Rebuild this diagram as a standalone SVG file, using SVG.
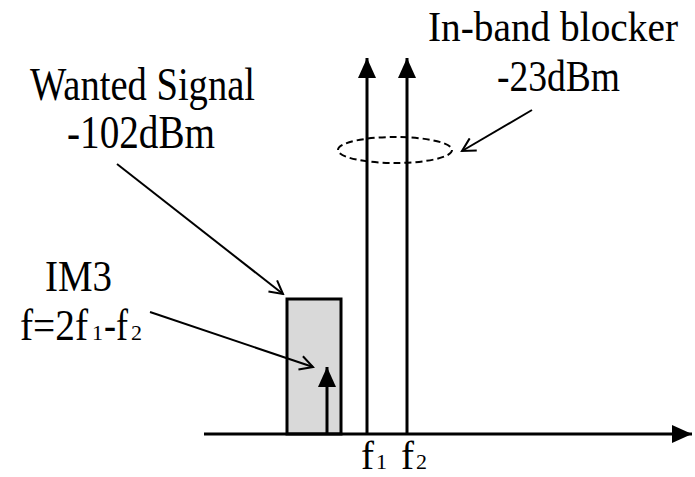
<svg xmlns="http://www.w3.org/2000/svg" width="695" height="477" viewBox="0 0 695 477">
<style>
text{font-family:"Liberation Serif","Times New Roman",serif;fill:#000}
.big{font-size:45px}
.sub{font-size:22px}
.thick{stroke:#000;stroke-width:3;fill:none}
.thin{stroke:#000;stroke-width:2;fill:none}
</style>
<defs>
<marker id="fill" markerWidth="20" markerHeight="18" refX="20" refY="9" orient="auto" markerUnits="userSpaceOnUse"><path d="M0,0 L20,9 L0,18 Z" fill="#000"/></marker>
<marker id="open" markerWidth="16" markerHeight="16" refX="14" refY="8" orient="auto" markerUnits="userSpaceOnUse"><path d="M1,1 L14,8 L1,15" fill="none" stroke="#000" stroke-width="2"/></marker>
</defs>
<rect width="695" height="477" fill="#fff"/>
<g id="band">
<rect x="287" y="299" width="54" height="135" fill="#d9d9d9" stroke="#000" stroke-width="3"/>
</g>
<g id="axis">
<line x1="204" y1="434" x2="692" y2="434" class="thick" marker-end="url(#fill)"/>
</g>
<g id="tones">
<line x1="327" y1="434" x2="327" y2="367" class="thick" marker-end="url(#fill)"/>
<line x1="367" y1="434" x2="367" y2="58" class="thick" marker-end="url(#fill)"/>
<line x1="407" y1="434" x2="407" y2="58" class="thick" marker-end="url(#fill)"/>
</g>
<g id="ellipse">
<ellipse cx="395" cy="150" rx="57" ry="13" fill="none" stroke="#000" stroke-width="2" stroke-dasharray="7,4"/>
</g>
<g id="connectors">
<line x1="117" y1="164" x2="283" y2="294" class="thin" marker-end="url(#open)"/>
<line x1="150" y1="312" x2="313" y2="367" class="thin" marker-end="url(#open)"/>
<line x1="532" y1="110" x2="462" y2="151" class="thin" marker-end="url(#open)"/>
</g>
<g id="wanted">
<text class="big" x="30" y="100" textLength="225" lengthAdjust="spacingAndGlyphs" style="font-size:47px">Wanted Signal</text>
<text class="big" x="67" y="148" textLength="148" lengthAdjust="spacingAndGlyphs" style="font-size:47px">-102dBm</text>
</g>
<g id="blocker">
<text class="big" x="428" y="41" textLength="250" lengthAdjust="spacingAndGlyphs" style="font-size:43px">In-band blocker</text>
<text class="big" x="497" y="91" textLength="123" lengthAdjust="spacingAndGlyphs">-23dBm</text>
</g>
<g id="im3">
<text class="big" x="45" y="291" textLength="67" lengthAdjust="spacingAndGlyphs">IM3</text>
<text class="big" y="340"><tspan x="20" textLength="68" lengthAdjust="spacingAndGlyphs">f=2f</tspan><tspan class="sub" x="92">1</tspan><tspan x="104" textLength="24" lengthAdjust="spacingAndGlyphs">-f</tspan><tspan class="sub" x="131">2</tspan></text>
</g>
<g id="freq">
<text class="big" y="469" style="font-size:39px"><tspan x="361">f</tspan><tspan class="sub" x="376">1</tspan><tspan x="401">f</tspan><tspan class="sub" x="416">2</tspan></text>
</g>
</svg>
